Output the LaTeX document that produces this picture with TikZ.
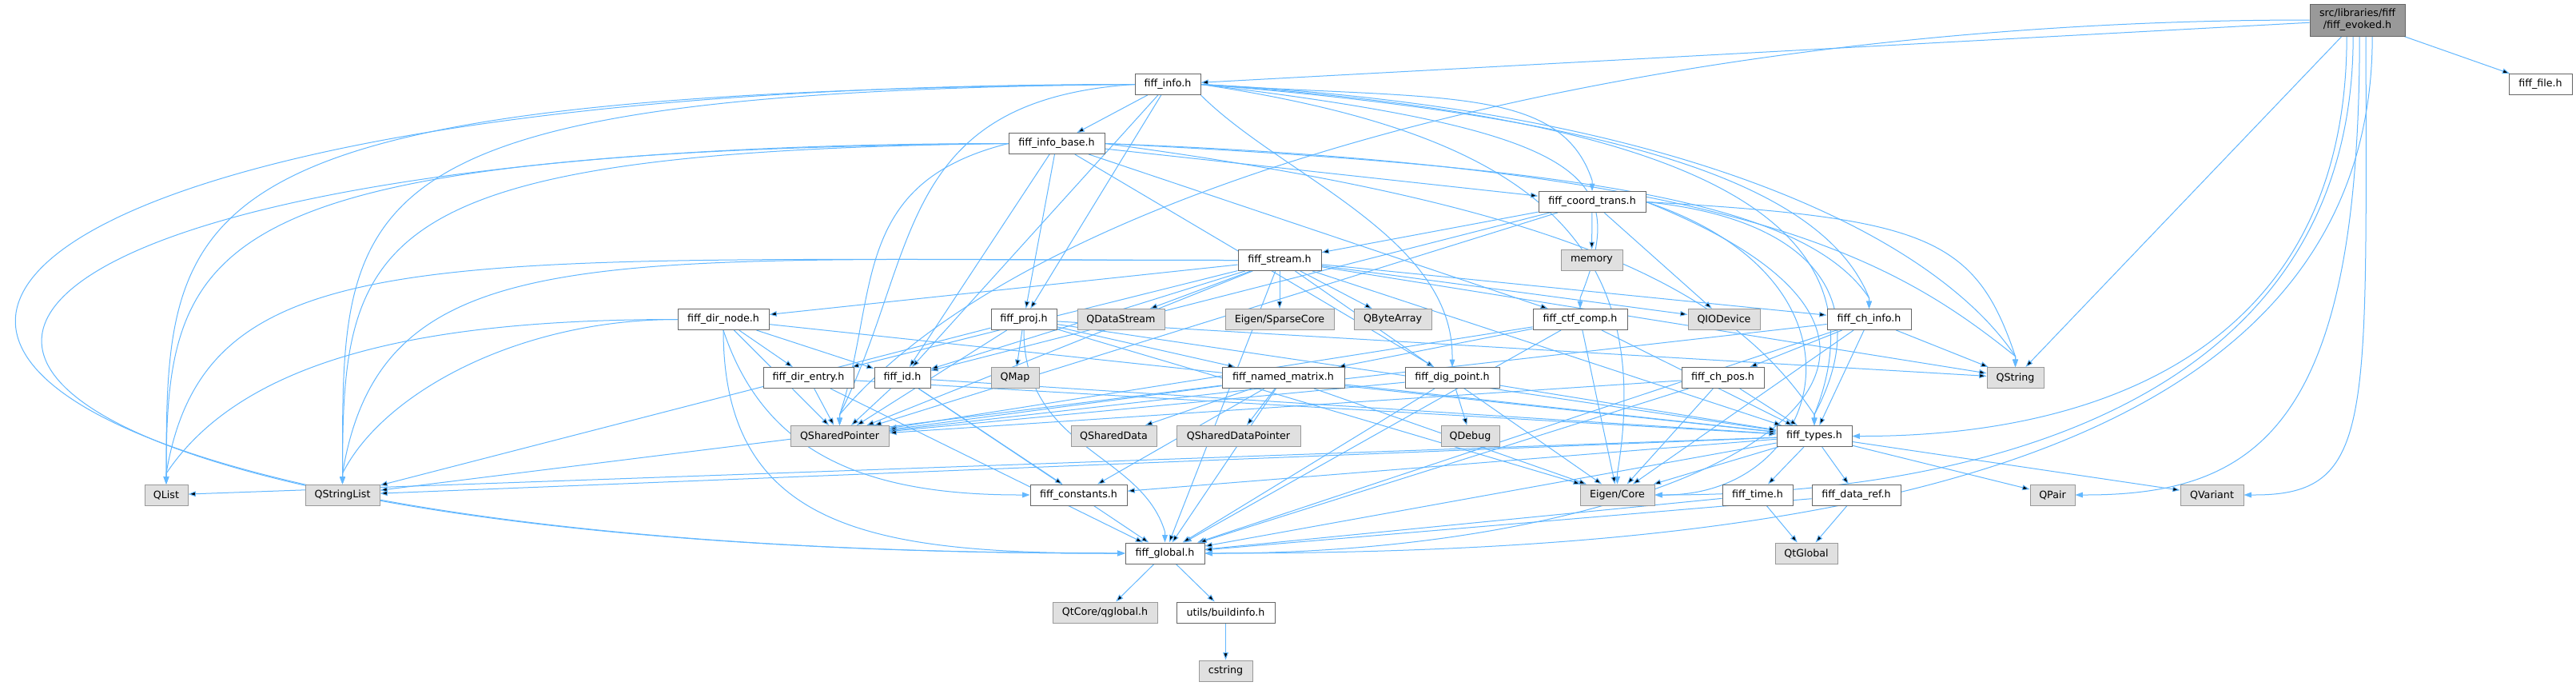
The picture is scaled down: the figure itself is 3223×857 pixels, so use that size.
\documentclass[tikz,border=0pt]{standalone}
\usepackage{fontspec}
\setmainfont{DejaVu Sans}
\usetikzlibrary{arrows.meta,backgrounds}
\definecolor{edgeblue}{HTML}{63B8FF}

\begin{document}
\begin{tikzpicture}[x=0.75pt, y=0.75pt,
    hdr/.style={draw=black!60, fill=white, line width=0.75pt, minimum height=19.5pt,
                inner sep=0pt, font=\fontsize{9.5}{11}\selectfont},
    ext/.style={hdr, draw=black!40, fill=black!12},
    top/.style={hdr, fill=black!40, minimum height=30pt, align=center},
    dep/.style={draw=edgeblue, line width=0.75pt, -{Stealth[length=7pt,width=5pt,inset=0pt]}}]
    \useasboundingbox (0,0) rectangle (3223,-857);

    % headers of the library
    \node (root) [top, minimum width=89.25pt] at (2949.5,-25) {src/libraries/fiff\\/fiff\_evoked.h};
    \node (info) [hdr, minimum width=61.5pt] at (1461,-105.5) {fiff\_info.h};
    \node (file) [hdr, minimum width=59.25pt] at (3178.5,-105.5) {fiff\_file.h};
    \node (infobase) [hdr, minimum width=90pt] at (1322,-179.5) {fiff\_info\_base.h};
    \node (coordtrans) [hdr, minimum width=100.5pt] at (1992,-252.5) {fiff\_coord\_trans.h};
    \node (stream) [hdr, minimum width=78pt] at (1601,-325.5) {fiff\_stream.h};
    \node (dirnode) [hdr, minimum width=85.5pt] at (905,-399.5) {fiff\_dir\_node.h};
    \node (proj) [hdr, minimum width=61.5pt] at (1281,-399.5) {fiff\_proj.h};
    \node (ctfcomp) [hdr, minimum width=88.5pt] at (1977,-399.5) {fiff\_ctf\_comp.h};
    \node (chinfo) [hdr, minimum width=78.75pt] at (2338.5,-399.5) {fiff\_ch\_info.h};
    \node (direntry) [hdr, minimum width=84.75pt] at (1011.5,-472.5) {fiff\_dir\_entry.h};
    \node (id) [hdr, minimum width=52.5pt] at (1129,-472.5) {fiff\_id.h};
    \node (namedmatrix) [hdr, minimum width=114.75pt] at (1605.5,-472.5) {fiff\_named\_matrix.h};
    \node (digpoint) [hdr, minimum width=88.5pt] at (1817,-472.5) {fiff\_dig\_point.h};
    \node (chpos) [hdr, minimum width=77.25pt] at (2155.5,-472.5) {fiff\_ch\_pos.h};
    \node (types) [hdr, minimum width=70.5pt] at (2270,-545.5) {fiff\_types.h};
    \node (constants) [hdr, minimum width=90.75pt] at (1349.5,-619) {fiff\_constants.h};
    \node (time) [hdr, minimum width=66pt] at (2199,-619) {fiff\_time.h};
    \node (dataref) [hdr, minimum width=83.25pt] at (2322.5,-619) {fiff\_data\_ref.h};
    \node (global) [hdr, minimum width=74.25pt] at (1457.5,-692) {fiff\_global.h};
    \node (buildinfo) [hdr, minimum width=92.25pt] at (1533.5,-766) {utils/buildinfo.h};

    % system and Qt headers
    \node (memory) [ext, minimum width=57.75pt] at (1991.5,-325.5) {memory};
    \node (qdatastream) [ext, minimum width=81.75pt] at (1402.5,-399.5) {QDataStream};
    \node (sparsecore) [ext, minimum width=102pt] at (1601,-399.5) {Eigen/SparseCore};
    \node (qbytearray) [ext, minimum width=72.75pt] at (1742.5,-399.5) {QByteArray};
    \node (qiodevice) [ext, minimum width=67.5pt] at (2157,-399.5) {QIODevice};
    \node (qmap) [ext, minimum width=45pt] at (1270,-472.5) {QMap};
    \node (qstring) [ext, minimum width=53.25pt] at (2521.5,-472.5) {QString};
    \node (qsharedpointer) [ext, minimum width=92.25pt] at (1050.5,-545.5) {QSharedPointer};
    \node (qshareddata) [ext, minimum width=80.25pt] at (1393.5,-545.5) {QSharedData};
    \node (qshareddatapointer) [ext, minimum width=116.25pt] at (1549.5,-545.5) {QSharedDataPointer};
    \node (qdebug) [ext, minimum width=54.75pt] at (1839.5,-545.5) {QDebug};
    \node (qlist) [ext, minimum width=40.5pt] at (208,-619) {QList};
    \node (qstringlist) [ext, minimum width=69.75pt] at (428.5,-619) {QStringList};
    \node (eigencore) [ext, minimum width=69.75pt] at (2023.5,-619) {Eigen/Core};
    \node (qpair) [ext, minimum width=42pt] at (2568,-619) {QPair};
    \node (qvariant) [ext, minimum width=59.25pt] at (2767.5,-619) {QVariant};
    \node (qtglobal) [ext, minimum width=58.5pt] at (2260,-692) {QtGlobal};
    \node (qglobal) [ext, minimum width=98.25pt] at (1382.5,-766) {QtCore/qglobal.h};
    \node (cstring) [ext, minimum width=50.25pt] at (1533.5,-839) {cstring};

    \begin{pgfonlayer}{background}
    \fill [white] (0,0) rectangle (3223,-857);

    % long, bent includes
    \draw [dep] (root.west) .. controls +(-800,0) and +(250,300) .. ([yshift=10pt]qsharedpointer.north) -- (qsharedpointer.north);
    \draw [dep] ([xshift=-10pt]root.south) .. controls +(0,-420) and +(250,0) .. ([xshift=10pt]types.east) -- (types.east);
    \draw [dep] ([xshift=-4pt]root.south) .. controls +(0,-480) and +(350,0) .. ([xshift=10pt]eigencore.east) -- (eigencore.east);
    \draw [dep] ([xshift=2pt]root.south) .. controls +(0,-480) and +(220,0) .. ([xshift=10pt]qpair.east) -- (qpair.east);
    \draw [dep] ([xshift=8pt]root.south) .. controls +(0,-480) and +(150,0) .. ([xshift=10pt]qvariant.east) -- (qvariant.east);
    \draw [dep] ([xshift=14pt]root.south) .. controls +(0,-560) and +(700,0) .. ([xshift=10pt]global.east) -- (global.east);

    \draw [dep] (info.east) .. controls +(300,-20) and +(-40,120) .. ([yshift=10pt]coordtrans.north) -- (coordtrans.north);
    \draw [dep] (info.east) .. controls +(500,-60) and +(60,150) .. ([yshift=10pt]ctfcomp.north) -- (ctfcomp.north);
    \draw [dep] (info.east) .. controls +(500,-40) and +(-60,150) .. ([yshift=10pt]chinfo.north) -- (chinfo.north);
    \draw [dep] (info.east) .. controls +(600,-40) and +(100,250) .. ([yshift=10pt]types.north) -- (types.north);
    \draw [dep] (info.east) .. controls +(600,-30) and +(-100,150) .. ([yshift=10pt]qstring.north) -- (qstring.north);
    \draw [dep] (info.east) .. controls +(400,-60) and +(50,300) .. ([yshift=10pt]eigencore.north) -- (eigencore.north);
    \draw [dep] (info.south east) .. controls +(100,-100) and +(0,150) .. ([yshift=10pt]digpoint.north) -- (digpoint.north);
    \draw [dep] (info.west) .. controls +(-1850,0) and +(-1850,0) .. ([xshift=-10pt]global.west) -- (global.west);
    \draw [dep] (info.west) .. controls +(-1200,-10) and +(0,350) .. ([yshift=10pt]qlist.north) -- (qlist.north);
    \draw [dep] (info.west) .. controls +(-1000,-10) and +(0,350) .. ([yshift=10pt]qstringlist.north) -- (qstringlist.north);
    \draw [dep] (info.west) .. controls +(-300,-20) and +(100,200) .. ([yshift=10pt]qsharedpointer.north) -- (qsharedpointer.north);

    \draw [dep] (infobase.east) .. controls +(600,-30) and +(-80,120) .. ([yshift=10pt]chinfo.north) -- (chinfo.north);
    \draw [dep] (infobase.east) .. controls +(600,-80) and +(-100,150) .. ([yshift=10pt]types.north) -- (types.north);
    \draw [dep] (infobase.east) .. controls +(800,-30) and +(-150,120) .. ([yshift=10pt]qstring.north) -- (qstring.north);
    \draw [dep] (infobase.west) .. controls +(-1650,0) and +(-1750,0) .. ([xshift=-10pt]global.west) -- (global.west);
    \draw [dep] (infobase.west) .. controls +(-1000,-10) and +(0,300) .. ([yshift=10pt]qlist.north) -- (qlist.north);
    \draw [dep] (infobase.west) .. controls +(-800,-10) and +(0,300) .. ([yshift=10pt]qstringlist.north) -- (qstringlist.north);
    \draw [dep] (infobase.west) .. controls +(-200,-50) and +(50,150) .. ([yshift=10pt]qsharedpointer.north) -- (qsharedpointer.north);

    \draw [dep] (coordtrans.east) .. controls +(200,-20) and +(80,150) .. ([yshift=10pt]types.north) -- (types.north);
    \draw [dep] (coordtrans.east) .. controls +(300,-100) and +(200,0) .. ([xshift=10pt]eigencore.east) -- (eigencore.east);
    \draw [dep] (coordtrans.east) .. controls +(350,-20) and +(-50,150) .. ([yshift=10pt]qstring.north) -- (qstring.north);
    \draw [dep] (coordtrans.east) .. controls +(500,-200) and +(600,0) .. ([xshift=10pt]global.east) -- (global.east);

    \draw [dep] (stream.west) .. controls +(-1000,0) and +(50,300) .. ([yshift=10pt]qlist.north) -- (qlist.north);
    \draw [dep] (stream.west) .. controls +(-800,0) and +(50,300) .. ([yshift=10pt]qstringlist.north) -- (qstringlist.north);

    \draw [dep] (dirnode.south) .. controls +(0,-250) and +(-300,0) .. ([xshift=-10pt]global.west) -- (global.west);
    \draw [dep] (dirnode.south) .. controls +(50,-150) and +(-200,0) .. ([xshift=-10pt]constants.west) -- (constants.west);
    \draw [dep] (dirnode.west) .. controls +(-300,0) and +(100,150) .. ([yshift=10pt]qlist.north) -- (qlist.north);
    \draw [dep] (dirnode.west) .. controls +(-200,0) and +(50,100) .. ([yshift=10pt]qstringlist.north) -- (qstringlist.north);
    \draw [dep] (proj.south) .. controls +(0,-150) and +(-30,100) .. ([yshift=10pt]global.north) -- (global.north);

    % short, straight includes
    \path [dep]
        (root) edge (info)
        (root) edge (file)
        (root) edge (qstring)

        (info) edge (infobase)
        (info) edge (proj)
        (info) edge (id)

        (infobase) edge (coordtrans)
        (infobase) edge (ctfcomp)
        (infobase) edge (digpoint)
        (infobase) edge (id)
        (infobase) edge (proj)

        (coordtrans) edge (memory)
        (coordtrans) edge (stream)
        (coordtrans) edge (qiodevice)
        (coordtrans) edge (qsharedpointer)
        (coordtrans) edge (id)

        (stream) edge (qdatastream)
        (stream) edge (sparsecore)
        (stream) edge (qbytearray)
        (stream) edge (dirnode)
        (stream) edge (direntry)
        (stream) edge (id)
        (stream) edge (chinfo)
        (stream) edge (qiodevice)
        (stream) edge (types)
        (stream) edge (qstring)
        (stream) edge (global)
        (stream) edge (eigencore)
        (stream) edge (qsharedpointer)

        (dirnode) edge (direntry)
        (dirnode) edge (id)
        (dirnode) edge (types)
        (dirnode) edge (qsharedpointer)

        (proj) edge (qmap)
        (proj) edge (namedmatrix)
        (proj) edge (types)
        (proj) edge (qsharedpointer)
        (proj) edge (qstring)
        (proj) edge (qstringlist)
        (proj) edge (eigencore)

        (ctfcomp) edge (namedmatrix)
        (ctfcomp) edge (types)
        (ctfcomp) edge (qsharedpointer)
        (ctfcomp) edge (eigencore)
        (ctfcomp) edge (global)

        (chinfo) edge (chpos)
        (chinfo) edge (types)
        (chinfo) edge (qstring)
        (chinfo) edge (global)
        (chinfo) edge (eigencore)
        (chinfo) edge (qsharedpointer)

        (direntry) edge (types)
        (direntry) edge (qsharedpointer)
        (direntry) edge (global)

        (id) edge (types)
        (id) edge (qsharedpointer)
        (id) edge (global)
        (id) edge (constants)

        (namedmatrix) edge (qshareddata)
        (namedmatrix) edge (qshareddatapointer)
        (namedmatrix) edge (qsharedpointer)
        (namedmatrix) edge (types)
        (namedmatrix) edge (global)
        (namedmatrix) edge (eigencore)
        (namedmatrix) edge (constants)
        (namedmatrix) edge (qstringlist)

        (digpoint) edge (qdebug)
        (digpoint) edge (types)
        (digpoint) edge (global)
        (digpoint) edge (qsharedpointer)

        (chpos) edge (types)
        (chpos) edge (global)
        (chpos) edge (eigencore)
        (chpos) edge (qsharedpointer)

        (types) edge (constants)
        (types) edge (time)
        (types) edge (dataref)
        (types) edge (eigencore)
        (types) edge (qpair)
        (types) edge (qvariant)
        (types) edge (qlist)
        (types) edge (qstringlist)
        (types) edge (global)

        (time) edge (global)
        (time) edge (qtglobal)
        (dataref) edge (global)
        (dataref) edge (qtglobal)

        (global) edge (qglobal)
        (global) edge (buildinfo)
        (buildinfo) edge (cstring);
    \end{pgfonlayer}
\end{tikzpicture}
\end{document}
